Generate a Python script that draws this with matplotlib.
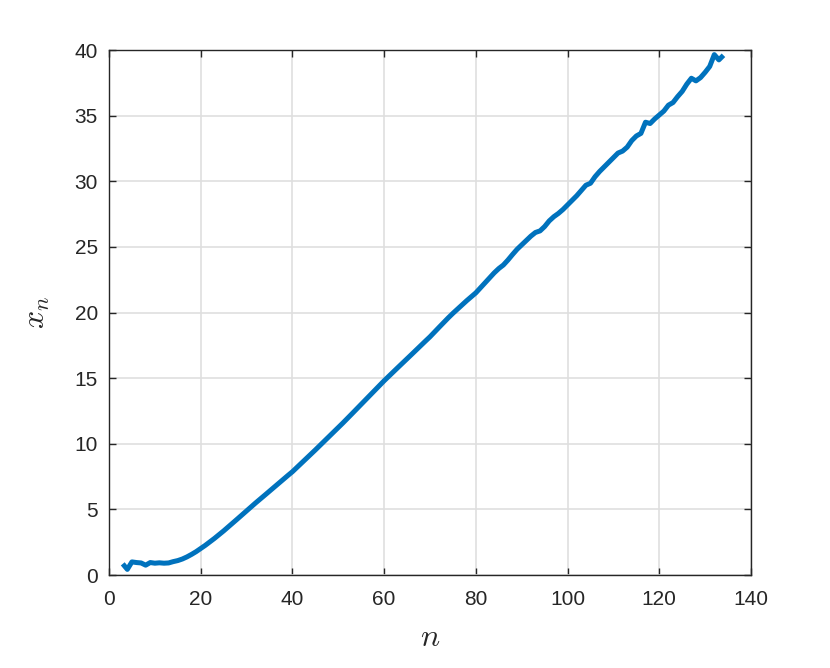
import numpy as np
import matplotlib.pyplot as plt

# x_n values, for n = 3, 4, ..., 134
xn = [0.85, 0.43, 1.0, 0.95, 0.92, 0.75, 0.95, 0.9, 0.93, 0.9,
      0.92, 1.02, 1.1, 1.22, 1.38, 1.57, 1.78, 2.02,
      2.26, 2.52, 2.79, 3.07, 3.36, 3.66, 3.96, 4.27, 4.58, 4.9,
      5.2, 5.5, 5.79, 6.09, 6.39, 6.69, 6.98, 7.28, 7.58, 7.87,
      8.2, 8.53, 8.86, 9.2, 9.53, 9.87, 10.2, 10.54, 10.88, 11.22,
      11.58, 11.93, 12.29, 12.65, 13.0, 13.36, 13.72, 14.08, 14.44, 14.8,
      15.14, 15.47, 15.81, 16.14, 16.48, 16.81, 17.15, 17.48, 17.82, 18.15,
      18.52, 18.88, 19.24, 19.6, 19.94, 20.26, 20.58, 20.9, 21.2, 21.5,
      21.88, 22.25, 22.65, 23.02, 23.35, 23.62, 24.0, 24.42, 24.82, 25.15,
      25.48, 25.82, 26.1, 26.22, 26.55, 26.98, 27.3, 27.55, 27.85, 28.2,
      28.55, 28.9, 29.3, 29.7, 29.85, 30.35, 30.75, 31.1, 31.45, 31.8,
      32.15, 32.3, 32.6, 33.1, 33.45, 33.65, 34.5, 34.4, 34.75, 35.05,
      35.35, 35.8, 36.0, 36.45, 36.85, 37.4, 37.85, 37.65, 37.9, 38.3,
      38.75, 39.65, 39.25, 39.6]
n = np.arange(3, 3 + len(xn))

xticks = [0, 20, 40, 60, 80, 100, 120, 140]
yticks = [0, 5, 10, 15, 20, 25, 30, 35, 40]

plt.rcParams['font.family'] = ['Liberation Sans', 'DejaVu Sans']
plt.rcParams['mathtext.fontset'] = 'cm'

fig = plt.figure(figsize=(8.3, 6.68), dpi=100)
ax = fig.add_axes([0.1313, 0.1392, 0.7735, 0.7859])

ax.plot(n, xn, color='#0072BD', lw=3.6, solid_capstyle='butt', zorder=3)

ax.set_xlim(0, 140)
ax.set_ylim(0, 40)
ax.set_xticks(xticks)
ax.set_yticks(yticks)
ax.grid(True, color='#dfdfdf', lw=1.2)
ax.set_axisbelow(True)

ax.tick_params(direction='in', length=5, width=1, colors='#262626',
               labelsize=15, top=True, right=True)
ax.tick_params(axis='x', pad=11)
ax.tick_params(axis='y', pad=8)
for s in ax.spines.values():
    s.set_color('#262626')
    s.set_linewidth(1.0)

ax.set_xlabel('$n$', fontsize=23, color='#262626', labelpad=10)
ax.set_ylabel('$x_n$', fontsize=23, color='#262626', labelpad=16)

fig.savefig('out.png', dpi=100)
